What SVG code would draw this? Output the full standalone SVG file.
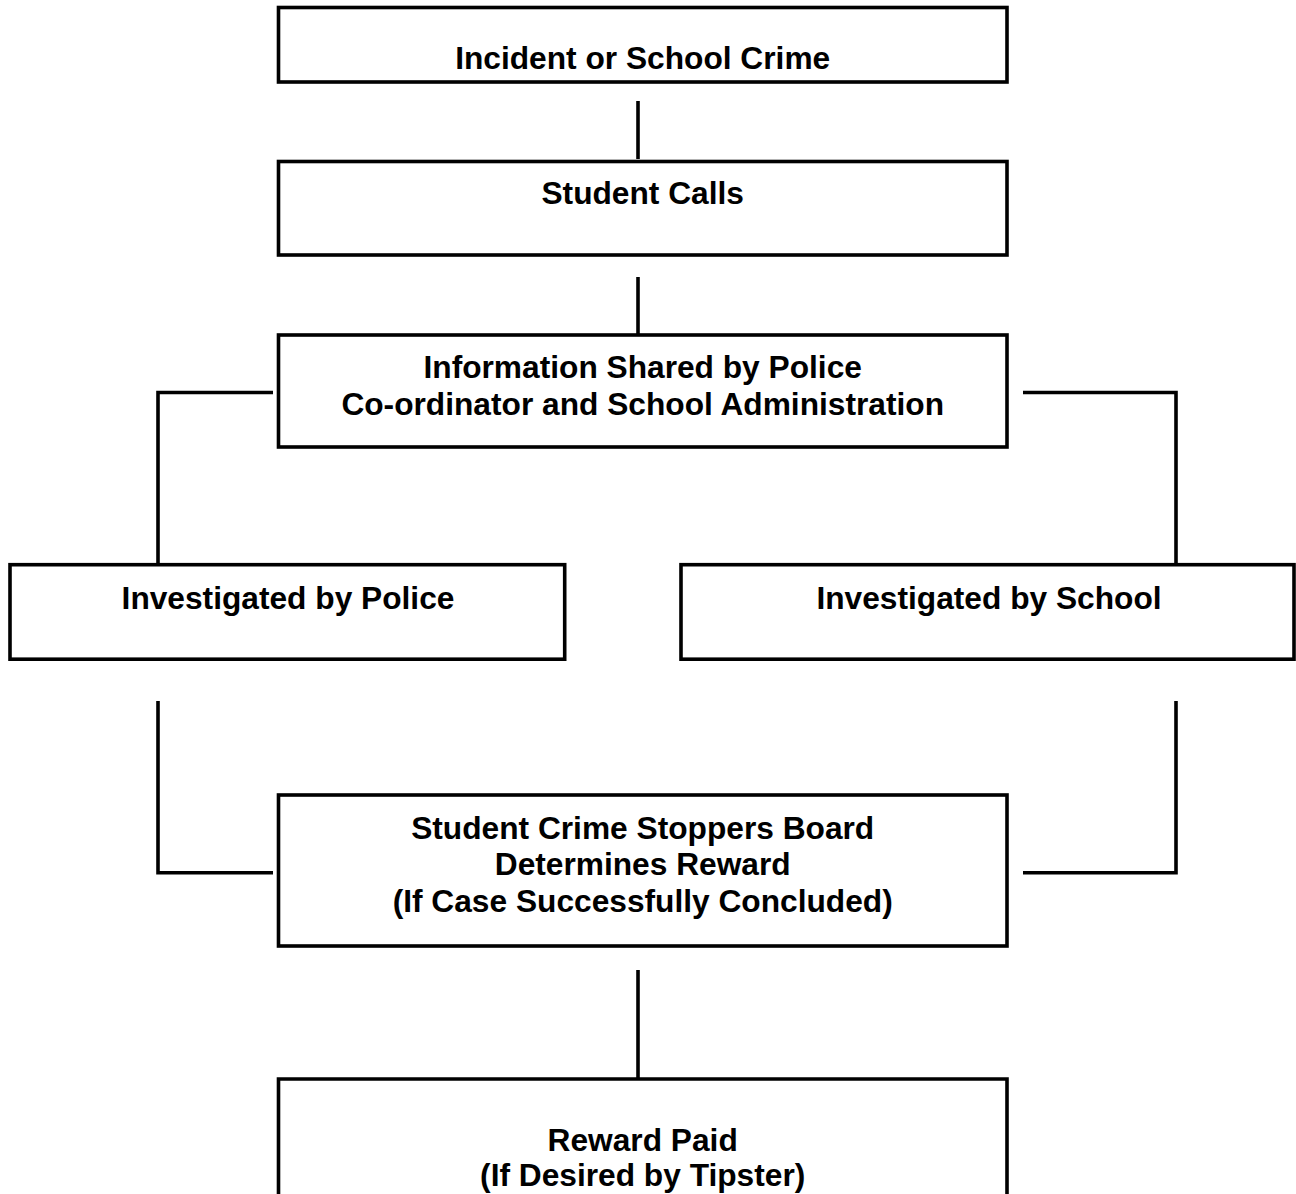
<svg xmlns="http://www.w3.org/2000/svg" width="1296" height="1194" viewBox="0 0 1296 1194">
<style>
.box{fill:#fff;stroke:#000;stroke-width:3.6}
.ln{fill:none;stroke:#000;stroke-width:3.6;stroke-linecap:butt;stroke-linejoin:miter}
.t{font-family:"Liberation Sans",Arial,sans-serif;font-weight:bold;font-size:31.7px;text-anchor:middle;fill:#000}
</style>
<rect width="1296" height="1194" fill="#fff"/>
<g id="connectors">
<line class="ln" x1="638" y1="101" x2="638" y2="159"/>
<line class="ln" x1="638" y1="277" x2="638" y2="334"/>
<polyline class="ln" points="273,392.5 158,392.5 158,564"/>
<polyline class="ln" points="1023,392.5 1176,392.5 1176,564"/>
<polyline class="ln" points="158,701 158,872.7 273,872.7"/>
<polyline class="ln" points="1176,701 1176,872.7 1023,872.7"/>
<line class="ln" x1="638" y1="970" x2="638" y2="1078"/>
</g>
<g id="n1"><rect class="box" x="278.5" y="7.5" width="728.5" height="74.5"/><text class="t" x="642.7" y="69">Incident or School Crime</text></g>
<g id="n2"><rect class="box" x="278.5" y="161.5" width="728.5" height="93.5"/><text class="t" x="642.7" y="204">Student Calls</text></g>
<g id="n3"><rect class="box" x="278.5" y="335" width="728.5" height="112"/><text class="t" x="642.7" y="378">Information Shared by Police</text><text class="t" x="642.7" y="415">Co-ordinator and School Administration</text></g>
<g id="n4"><rect class="box" x="10" y="564.7" width="554.7" height="94.5"/><text class="t" x="288" y="609">Investigated by Police</text></g>
<g id="n5"><rect class="box" x="681" y="564.7" width="613" height="94.5"/><text class="t" x="989" y="609">Investigated by School</text></g>
<g id="n6"><rect class="box" x="278.5" y="795" width="728.5" height="151"/><text class="t" x="642.7" y="839">Student Crime Stoppers Board</text><text class="t" x="642.7" y="875">Determines Reward</text><text class="t" x="642.7" y="912">(If Case Successfully Concluded)</text></g>
<g id="n7"><path class="ln" d="M278.5,1200 V1079 H1007 V1200"/><text class="t" x="642.7" y="1151">Reward Paid</text><text class="t" x="642.7" y="1186">(If Desired by Tipster)</text></g>
</svg>
